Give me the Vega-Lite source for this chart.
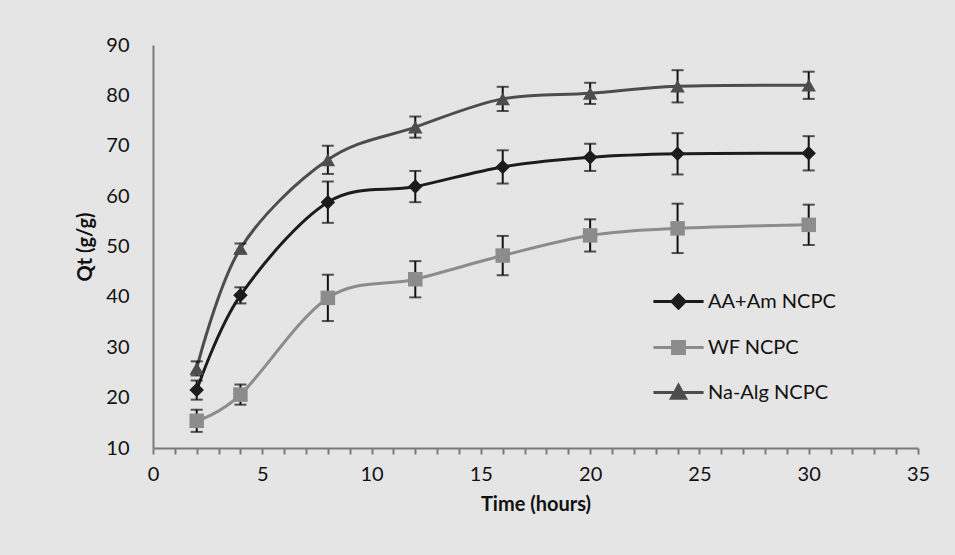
{
  "$schema": "https://vega.github.io/schema/vega-lite/v6.json",
  "width": 765,
  "height": 403,
  "autosize": "none",
  "padding": {"left": 153, "top": 45, "right": 37, "bottom": 107},
  "background": "#e5e5e5",
  "config": {
    "view": {"stroke": null},
    "font": "Lato",
    "axis": {"labelFont": "Lato", "titleFont": "Lato", "labelFontSize": 20, "titleFontSize": 20, "labelColor": "#111111", "titleColor": "#111111", "domainColor": "#7a7a7a", "domainWidth": 2, "tickColor": "#7a7a7a", "tickWidth": 2, "grid": false}
  },
  "data": {"values": [
    {"t": 2, "series": "AA+Am NCPC", "q": 21.5, "err": 1.9},
    {"t": 4, "series": "AA+Am NCPC", "q": 40.3, "err": 1.6},
    {"t": 8, "series": "AA+Am NCPC", "q": 58.8, "err": 4.1},
    {"t": 12, "series": "AA+Am NCPC", "q": 61.9, "err": 3.1},
    {"t": 16, "series": "AA+Am NCPC", "q": 65.8, "err": 3.3},
    {"t": 20, "series": "AA+Am NCPC", "q": 67.7, "err": 2.7},
    {"t": 24, "series": "AA+Am NCPC", "q": 68.4, "err": 4.1},
    {"t": 30, "series": "AA+Am NCPC", "q": 68.5, "err": 3.4},
    {"t": 2, "series": "WF NCPC", "q": 15.4, "err": 2.2},
    {"t": 4, "series": "WF NCPC", "q": 20.6, "err": 2.0},
    {"t": 8, "series": "WF NCPC", "q": 39.8, "err": 4.6},
    {"t": 12, "series": "WF NCPC", "q": 43.5, "err": 3.6},
    {"t": 16, "series": "WF NCPC", "q": 48.2, "err": 3.9},
    {"t": 20, "series": "WF NCPC", "q": 52.2, "err": 3.2},
    {"t": 24, "series": "WF NCPC", "q": 53.6, "err": 4.9},
    {"t": 30, "series": "WF NCPC", "q": 54.3, "err": 4.0},
    {"t": 2, "series": "Na-Alg NCPC", "q": 25.8, "err": 1.4},
    {"t": 4, "series": "Na-Alg NCPC", "q": 49.6, "err": 1.0},
    {"t": 8, "series": "Na-Alg NCPC", "q": 67.2, "err": 2.8},
    {"t": 12, "series": "Na-Alg NCPC", "q": 73.7, "err": 2.1},
    {"t": 16, "series": "Na-Alg NCPC", "q": 79.3, "err": 2.4},
    {"t": 20, "series": "Na-Alg NCPC", "q": 80.4, "err": 2.1},
    {"t": 24, "series": "Na-Alg NCPC", "q": 81.8, "err": 3.2},
    {"t": 30, "series": "Na-Alg NCPC", "q": 82.0, "err": 2.7}
  ]},
  "encoding": {
    "x": {"field": "t", "type": "quantitative", "title": "Time (hours)",
      "scale": {"domain": [0, 35], "nice": false, "zero": false},
      "axis": {"values": [0,1,2,3,4,5,6,7,8,9,10,11,12,13,14,15,16,17,18,19,20,21,22,23,24,25,26,27,28,29,30,31,32,33,34,35],
        "labelExpr": "datum.value % 5 === 0 ? datum.label : ''", "tickSize": 6, "labelPadding": 10, "titlePadding": 10, "labelFlush": false, "labelOverlap": false}},
    "y": {"field": "q", "type": "quantitative", "title": "Qt (g/g)",
      "scale": {"domain": [10, 90], "nice": false, "zero": false},
      "axis": {"values": [10,20,30,40,50,60,70,80,90], "ticks": false, "labelPadding": 24, "titlePadding": 10, "labelFlush": false}}
  },
  "layer": [
    {
      "mark": {"type": "line", "interpolate": "cardinal", "strokeWidth": 3},
      "encoding": {
        "color": {"field": "series", "type": "nominal", "legend": null,
          "scale": {"domain": ["AA+Am NCPC", "WF NCPC", "Na-Alg NCPC"], "range": ["#1c1c1c", "#8c8c8c", "#4d4d4d"]}}
      }
    },
    {
      "mark": {"type": "errorbar", "ticks": {"size": 12, "thickness": 2, "color": "#111111"}, "rule": {"strokeWidth": 2, "color": "#111111"}},
      "encoding": {
        "y": {"field": "q", "type": "quantitative"},
        "yError": {"field": "err"}
      }
    },
    {
      "mark": {"type": "point", "filled": true, "opacity": 1, "size": 210},
      "encoding": {
        "color": {"field": "series", "type": "nominal", "legend": null},
        "shape": {"field": "series", "type": "nominal", "legend": null,
          "scale": {"domain": ["AA+Am NCPC", "WF NCPC", "Na-Alg NCPC"], "range": ["diamond", "square", "triangle-up"]}}
      }
    },
    {
      "transform": [{"filter": "datum.t < 0"}],
      "mark": {"type": "point", "opacity": 1, "strokeWidth": 3},
      "encoding": {
        "fill": {"field": "series", "type": "nominal",
          "scale": {"domain": ["AA+Am NCPC", "WF NCPC", "Na-Alg NCPC"], "range": ["#1c1c1c", "#8c8c8c", "#4d4d4d"]},
          "legend": {"title": null, "orient": "none", "legendX": 502, "legendY": 233, "padding": 0,
            "symbolSize": 1936, "symbolStrokeWidth": 3, "symbolOpacity": 1, "labelOffset": 6, "rowPadding": 9,
            "labelFont": "Lato", "labelFontSize": 20, "labelColor": "#111111", "labelLimit": 300}},
        "stroke": {"field": "series", "type": "nominal",
          "scale": {"domain": ["AA+Am NCPC", "WF NCPC", "Na-Alg NCPC"], "range": ["#1c1c1c", "#8c8c8c", "#4d4d4d"]},
          "legend": {"title": null, "orient": "none", "legendX": 502, "legendY": 233, "padding": 0,
            "symbolSize": 1936, "symbolStrokeWidth": 3, "symbolOpacity": 1, "labelOffset": 6, "rowPadding": 9,
            "labelFont": "Lato", "labelFontSize": 20, "labelColor": "#111111", "labelLimit": 300}},
        "shape": {"field": "series", "type": "nominal",
          "scale": {"domain": ["AA+Am NCPC", "WF NCPC", "Na-Alg NCPC"],
            "range": ["M-1.14,0H1.14M0,-0.3L0.3,0L0,0.3L-0.3,0Z", "M-1.14,0H1.14M-0.27,-0.27H0.27V0.27H-0.27Z", "M-1.14,0H1.14M0,-0.32L0.32,0.26H-0.32Z"]},
          "legend": {"title": null, "orient": "none", "legendX": 502, "legendY": 233, "padding": 0,
            "symbolSize": 1936, "symbolStrokeWidth": 3, "symbolOpacity": 1, "labelOffset": 6, "rowPadding": 9,
            "labelFont": "Lato", "labelFontSize": 20, "labelColor": "#111111", "labelLimit": 300}
        }
      }
    }
  ],
  "resolve": {"scale": {"shape": "independent", "fill": "independent", "stroke": "independent"}}
}
